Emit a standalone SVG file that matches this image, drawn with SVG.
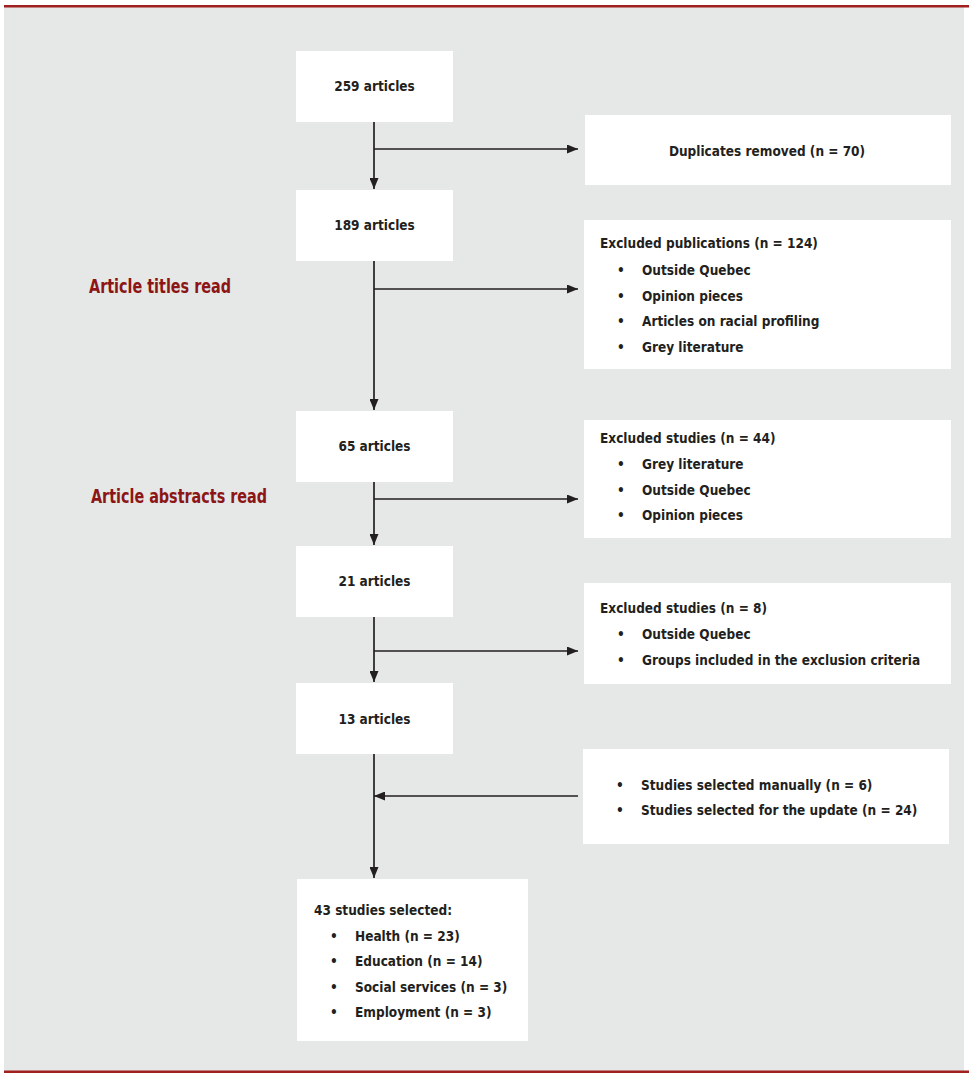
<svg xmlns="http://www.w3.org/2000/svg" width="969" height="1080" viewBox="0 0 969 1080">
<defs>
<style>
.bg{fill:#e6e7e7}
.box{fill:#ffffff}
.t{font-family:"DejaVu Sans Condensed","DejaVu Sans","Liberation Sans",sans-serif;font-stretch:condensed;font-weight:bold;font-size:13.5px;fill:#231f20}
.c{text-anchor:middle}
.red{font-family:"DejaVu Sans Condensed","DejaVu Sans","Liberation Sans",sans-serif;font-stretch:condensed;font-weight:bold;font-size:19.5px;fill:#8c1515}
.ln{stroke:#231f20;stroke-width:1.7;fill:none}
</style>
<marker id="ah" viewBox="0 0 11 9" refX="11" refY="4.5" markerWidth="11" markerHeight="9" markerUnits="userSpaceOnUse" orient="auto">
<path d="M0,0 L11,4.5 L0,9 Z" fill="#231f20"/>
</marker>
</defs>
<rect x="0" y="0" width="969" height="1080" fill="#ffffff"/>
<rect class="bg" x="4" y="7" width="960" height="1064"/>
<rect x="4" y="5" width="965" height="2.5" fill="#a01f1f"/>
<rect x="4" y="1070.5" width="965" height="2.5" fill="#a01f1f"/>

<text class="red" x="89" y="293" textLength="142" lengthAdjust="spacingAndGlyphs">Article titles read</text>
<text class="red" x="91" y="503" textLength="176" lengthAdjust="spacingAndGlyphs">Article abstracts read</text>

<g id="connectors">
<line class="ln" x1="374" y1="122" x2="374" y2="189" marker-end="url(#ah)"/>
<line class="ln" x1="374" y1="149" x2="578" y2="149" marker-end="url(#ah)"/>
<line class="ln" x1="374" y1="261" x2="374" y2="410" marker-end="url(#ah)"/>
<line class="ln" x1="374" y1="289" x2="578" y2="289" marker-end="url(#ah)"/>
<line class="ln" x1="374" y1="482" x2="374" y2="545" marker-end="url(#ah)"/>
<line class="ln" x1="374" y1="499" x2="578" y2="499" marker-end="url(#ah)"/>
<line class="ln" x1="374" y1="617" x2="374" y2="682" marker-end="url(#ah)"/>
<line class="ln" x1="374" y1="651" x2="578" y2="651" marker-end="url(#ah)"/>
<line class="ln" x1="374" y1="754" x2="374" y2="878" marker-end="url(#ah)"/>
<line class="ln" x1="578" y1="796" x2="374" y2="796" marker-end="url(#ah)"/>
</g>

<g id="n259">
<rect class="box" x="296" y="51" width="157" height="71"/>
<text class="t c" x="374.5" y="91">259 articles</text>
</g>
<g id="dup">
<rect class="box" x="585" y="115" width="366" height="70"/>
<text class="t c" x="767" y="156">Duplicates removed (n = 70)</text>
</g>
<g id="n189">
<rect class="box" x="296" y="190" width="157" height="71"/>
<text class="t c" x="374.5" y="230">189 articles</text>
</g>
<g id="excl124">
<rect class="box" x="584" y="220" width="367" height="149"/>
<text class="t" x="600" y="248">Excluded publications (n = 124)</text>
<text class="t" x="617" y="275">•</text><text class="t" x="642" y="275">Outside Quebec</text>
<text class="t" x="617" y="301">•</text><text class="t" x="642" y="301">Opinion pieces</text>
<text class="t" x="617" y="326">•</text><text class="t" x="642" y="326">Articles on racial profiling</text>
<text class="t" x="617" y="352">•</text><text class="t" x="642" y="352">Grey literature</text>
</g>
<g id="n65">
<rect class="box" x="296" y="411" width="157" height="71"/>
<text class="t c" x="374.5" y="451">65 articles</text>
</g>
<g id="excl44">
<rect class="box" x="584" y="420" width="367" height="118"/>
<text class="t" x="600" y="443">Excluded studies (n = 44)</text>
<text class="t" x="617" y="469">•</text><text class="t" x="642" y="469">Grey literature</text>
<text class="t" x="617" y="495">•</text><text class="t" x="642" y="495">Outside Quebec</text>
<text class="t" x="617" y="520">•</text><text class="t" x="642" y="520">Opinion pieces</text>
</g>
<g id="n21">
<rect class="box" x="296" y="546" width="157" height="71"/>
<text class="t c" x="374.5" y="586">21 articles</text>
</g>
<g id="excl8">
<rect class="box" x="584" y="583" width="367" height="101"/>
<text class="t" x="600" y="613">Excluded studies (n = 8)</text>
<text class="t" x="617" y="639">•</text><text class="t" x="642" y="639">Outside Quebec</text>
<text class="t" x="617" y="665">•</text><text class="t" x="642" y="665">Groups included in the exclusion criteria</text>
</g>
<g id="n13">
<rect class="box" x="296" y="683" width="157" height="71"/>
<text class="t c" x="374.5" y="724">13 articles</text>
</g>
<g id="manual">
<rect class="box" x="583" y="749" width="366" height="95"/>
<text class="t" x="616" y="790">•</text><text class="t" x="641" y="790">Studies selected manually (n = 6)</text>
<text class="t" x="616" y="815">•</text><text class="t" x="641" y="815">Studies selected for the update (n = 24)</text>
</g>
<g id="final">
<rect class="box" x="297" y="879" width="231" height="162"/>
<text class="t" x="314" y="915">43 studies selected:</text>
<text class="t" x="330" y="941">•</text><text class="t" x="355" y="941">Health (n = 23)</text>
<text class="t" x="330" y="966">•</text><text class="t" x="355" y="966">Education (n = 14)</text>
<text class="t" x="330" y="992">•</text><text class="t" x="355" y="992">Social services (n = 3)</text>
<text class="t" x="330" y="1017">•</text><text class="t" x="355" y="1017">Employment (n = 3)</text>
</g>
</svg>
